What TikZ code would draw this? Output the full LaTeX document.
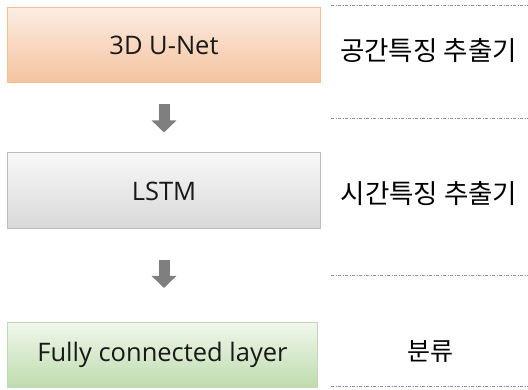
\documentclass[tikz,border=0pt]{standalone}
\usepackage{fontspec}
\setmainfont{Open Sans}
\newfontfamily\krfont{Noto Sans CJK KR}
\usetikzlibrary{arrows.meta}
\definecolor{peachtop}{HTML}{FCEDE3}
\definecolor{peachbot}{HTML}{F5C29E}
\definecolor{peachline}{HTML}{F9BC94}
\definecolor{graytop}{HTML}{F8F8F8}
\definecolor{graybot}{HTML}{D8D8D8}
\definecolor{grayline}{HTML}{BDBDBD}
\definecolor{greentop}{HTML}{F0F7EC}
\definecolor{greenbot}{HTML}{BEDCAD}
\definecolor{greenline}{HTML}{C4D6B8}
\definecolor{arrowgray}{HTML}{7F7F7F}
\definecolor{dotline}{HTML}{8A8EAA}
\tikzset{
  stagebox/.style={draw, line width=1pt, minimum width=313pt, minimum height=75pt,
    anchor=north west, inner sep=0pt, font=\fontsize{25.5}{30}\selectfont, text=black!90},
  sideLabel/.style={font=\krfont\fontsize{26.5}{30}\selectfont, text=black, anchor=center},
  blockarrow/.style={draw=arrowgray, line width=11pt,
    -{Triangle[width=24pt,length=12pt]}, arrowgray},
  sepline/.style={dotline, line width=0.9pt, dash pattern=on 3pt off 1.5pt on 1pt off 1.5pt}
}
\begin{document}
\begin{tikzpicture}[x=1pt,y=1pt]
\useasboundingbox (0,0) rectangle (528,-390);
\node[stagebox, draw=peachline, top color=peachtop, bottom color=peachbot,
  minimum height=75pt] (unet) at (7,-7) {3D U-Net};
\node[stagebox, draw=grayline, top color=graytop, bottom color=graybot,
  minimum height=76pt] (lstm) at (7,-152.5) {LSTM};
\node[stagebox, draw=greenline, top color=greentop, bottom color=greenbot,
  minimum width=310pt, minimum height=65pt] (fc) at (7,-322) {Fully connected layer};

\draw[blockarrow, shorten <=21pt, shorten >=20pt] (unet.south -| 164,0) -- (lstm.north -| 164,0);
\draw[blockarrow, shorten <=31pt, shorten >=34pt] (lstm.south -| 164,0) -- (fc.north -| 164,0);

\node[sideLabel] (lab1) at (428.5,-51) {공간특징 추출기};
\node[sideLabel] (lab2) at (429,-193.5) {시간특징 추출기};
\node[sideLabel, font=\krfont\fontsize{25}{28}\selectfont] (lab3) at (430,-352) {분류};

\coordinate (d1a) at (331,-5.5); \coordinate (d1b) at (528,-5.5);
\coordinate (d2a) at (331,-118); \coordinate (d2b) at (528,-118);
\coordinate (d3a) at (331,-275); \coordinate (d3b) at (528,-275);
\coordinate (d4a) at (331,-386); \coordinate (d4b) at (528,-386);
\draw[sepline] (d1a) -- (d1b);
\draw[sepline] (d2a) -- (d2b);
\draw[sepline] (d3a) -- (d3b);
\draw[sepline] (d4a) -- (d4b);
\end{tikzpicture}
\end{document}
